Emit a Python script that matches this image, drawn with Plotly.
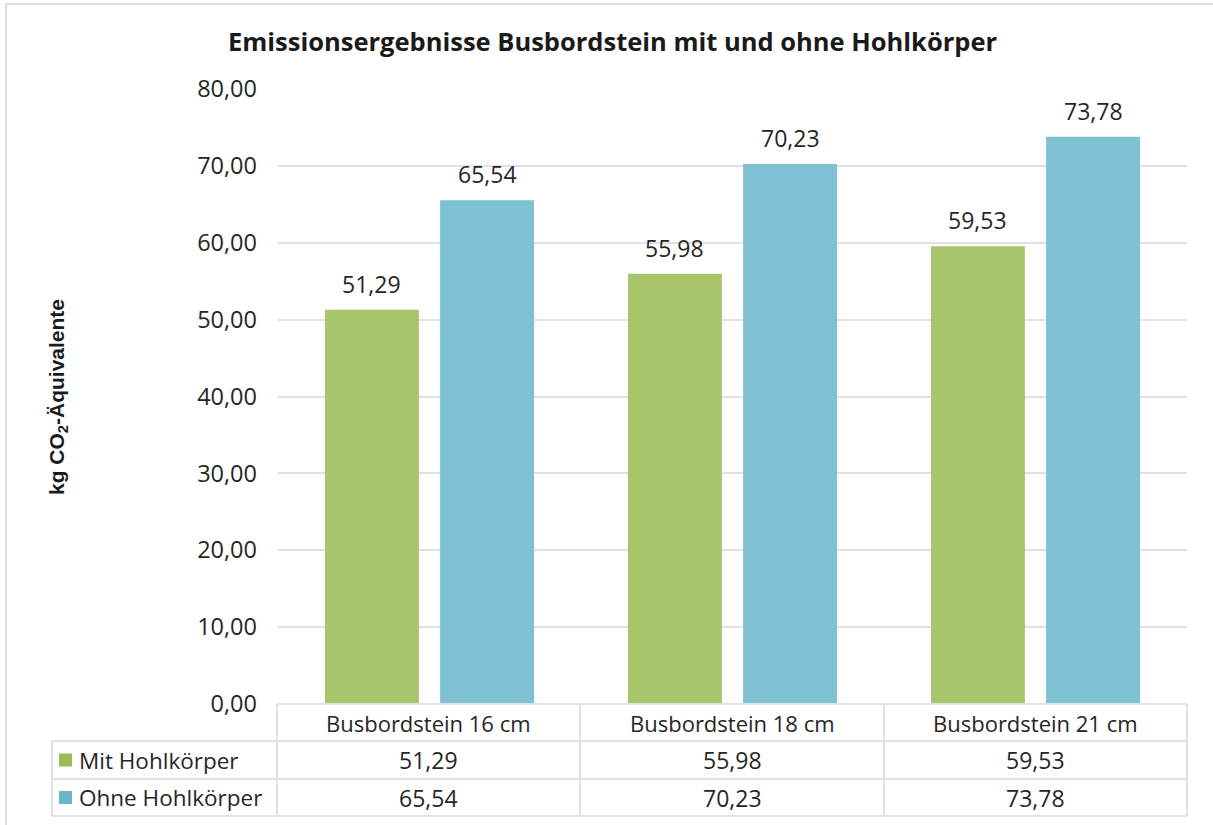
import plotly.graph_objects as go

# ---------------- data ----------------
categories = ["Busbordstein 16 cm", "Busbordstein 18 cm", "Busbordstein 21 cm"]
series_names = ["Mit Hohlkörper", "Ohne Hohlkörper"]
mit_values = [51.29, 55.98, 59.53]
ohne_values = [65.54, 70.23, 73.78]
title_text = "Emissionsergebnisse Busbordstein mit und ohne Hohlkörper"
y_title = "kg CO<sub>2</sub>-Äquivalente"

# ---------------- styling ----------------
W, H = 1213, 825
PL, PR, PT, PB = 278, 1187, 89, 704  # plot area in pixels
GREEN = "#a8c56b"
BLUE = "#7dc1d2"
GREEN_LEG = "#9bbb59"
BLUE_LEG = "#6db6c8"
LINE = "#dde2e9"
TXT = "#262626"
FONT = "Open Sans"
FS = 23
BAR_W = 0.31
OFFS = [-0.345, 0.035]


def px(x):
    return (x - PL) / (PR - PL)


def py(y):
    return (PB - y) / (PB - PT)


def fmt(v):
    return f"{v:.2f}".replace(".", ",")


fig = go.Figure()
xs = list(range(len(categories)))
for name, vals, col, off in [(series_names[0], mit_values, GREEN, OFFS[0]),
                             (series_names[1], ohne_values, BLUE, OFFS[1])]:
    fig.add_trace(go.Bar(x=xs, y=vals, name=name, width=BAR_W, offset=off,
                         marker=dict(color=col, line=dict(width=0)),
                         showlegend=False, hoverinfo="skip"))

annotations = []
shapes = []

# value labels above bars
for vals, off in [(mit_values, OFFS[0]), (ohne_values, OFFS[1])]:
    for i, v in enumerate(vals):
        annotations.append(dict(x=i + off + BAR_W / 2, y=v, xref="x", yref="y",
                                text=fmt(v), showarrow=False, xanchor="center",
                                yanchor="middle", yshift=26,
                                font=dict(family=FONT, size=FS, color=TXT)))

# title
annotations.append(dict(x=px(612), y=py(41), xref="paper", yref="paper",
                        text="<b>" + title_text + "</b>", showarrow=False,
                        xanchor="center", yanchor="middle",
                        font=dict(family=FONT, size=25.5, color="#1a1a1a")))
# y axis title
annotations.append(dict(x=px(58), y=py(397), xref="paper", yref="paper",
                        text="<b>" + y_title + "</b>", showarrow=False, textangle=-90,
                        xanchor="center", yanchor="middle",
                        font=dict(family="Liberation Sans", size=21, color="#1a1a1a")))

# data table
row_lines = [704, 741, 779, 816]
col_lines = [52, 277, 580, 884, PR]


def hline(y, x0, x1, color=LINE):
    shapes.append(dict(type="line", xref="paper", yref="paper", x0=px(x0), x1=px(x1),
                       y0=py(y), y1=py(y), line=dict(color=color, width=2), layer="above"))


def vline(x, y0, y1, color=LINE):
    shapes.append(dict(type="line", xref="paper", yref="paper", x0=px(x), x1=px(x),
                       y0=py(y0), y1=py(y1), line=dict(color=color, width=2), layer="above"))


hline(row_lines[0], col_lines[1], col_lines[-1])
for y in row_lines[1:]:
    hline(y, col_lines[0], col_lines[-1])
vline(col_lines[0], row_lines[1], row_lines[-1])
for x in col_lines[1:]:
    vline(x, row_lines[0], row_lines[-1])

# header row: categories
for i, c in enumerate(categories):
    cx = (col_lines[i + 1] + col_lines[i + 2]) / 2
    annotations.append(dict(x=px(cx), y=py((row_lines[0] + row_lines[1]) / 2),
                            xref="paper", yref="paper", text=c, showarrow=False,
                            xanchor="center", yanchor="middle",
                            font=dict(family=FONT, size=FS - 1, color=TXT)))

# series rows
for r, (name, vals, col) in enumerate([(series_names[0], mit_values, GREEN_LEG),
                                       (series_names[1], ohne_values, BLUE_LEG)]):
    yc = (row_lines[r + 1] + row_lines[r + 2]) / 2
    shapes.append(dict(type="rect", xref="paper", yref="paper",
                       x0=px(59), x1=px(72), y0=py(yc + 6.5), y1=py(yc - 6.5),
                       fillcolor=col, line=dict(width=0)))
    annotations.append(dict(x=px(77), y=py(yc), xref="paper", yref="paper",
                            text=name, showarrow=False, xanchor="left",
                            yanchor="middle",
                            font=dict(family=FONT, size=FS - 0.5, color=TXT)))
    for i, v in enumerate(vals):
        cx = (col_lines[i + 1] + col_lines[i + 2]) / 2
        annotations.append(dict(x=px(cx), y=py(yc), xref="paper", yref="paper",
                                text=fmt(v), showarrow=False,
                                xanchor="center", yanchor="middle",
                                font=dict(family=FONT, size=FS, color=TXT)))

# outer chart border (top and left edges visible)
hline(4, 6, W, color="#d9dee6")
vline(6, 4, H, color="#d9dee6")

fig.update_layout(
    width=W, height=H,
    margin=dict(l=PL, r=W - PR, t=PT, b=H - PB, pad=0),
    paper_bgcolor="white", plot_bgcolor="white",
    separators=",.",
    barmode="overlay",
    xaxis=dict(range=[-0.5, 2.5], showticklabels=False, showgrid=False,
               zeroline=False, showline=False, ticks="", fixedrange=True),
    yaxis=dict(range=[0, 80], dtick=10, tickformat=".2f", showgrid=True,
               gridcolor=LINE, gridwidth=2, zeroline=False, showline=False,
               ticks="", ticklabelstandoff=20,
               tickfont=dict(family=FONT, size=FS + 0.5, color=TXT)),
    annotations=annotations,
    shapes=shapes,
)

fig.write_html("out.html", config={"displayModeBar": False},
               post_script="document.body.style.margin='0';document.body.style.overflow='hidden';")
